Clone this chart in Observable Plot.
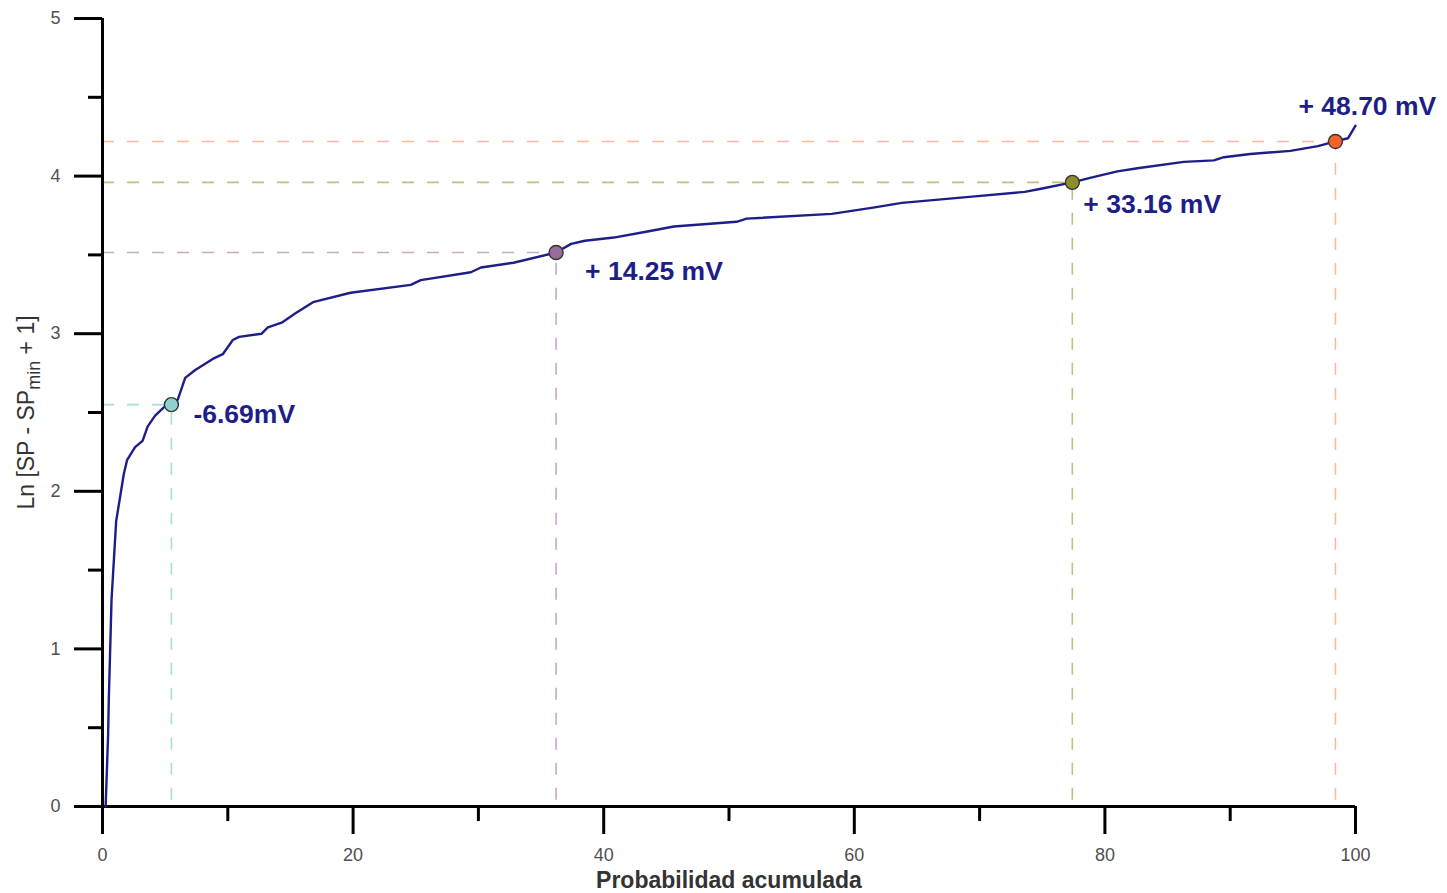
<!DOCTYPE html>
<html>
<head>
<meta charset="utf-8">
<script src="https://cdn.jsdelivr.net/npm/d3@7"></script>
<script src="https://cdn.jsdelivr.net/npm/@observablehq/plot@0.6"></script>
<style>
  html, body { margin: 0; padding: 0; background: #fff; }
  #chart svg { display: block; font-family: "Liberation Sans", Arial, sans-serif; }
</style>
</head>
<body>
<div id="chart"></div>
<script>
// Cumulative probability curve (x in %, y = Ln[SP - SPmin + 1])
const probX = [0.25, 0.45, 0.5, 0.72, 1.09, 1.7, 1.97, 2.6, 3.2, 3.6, 4.2, 5.0, 5.5, 6.0, 6.6, 7.4, 8.2, 8.8, 9.6, 10.4, 10.9, 12.7, 13.2, 14.3, 15.4, 16.8, 19.8, 24.6, 25.4, 29.4, 30.2, 32.8, 36.2, 37.4, 38.5, 40.8, 43.6, 45.6, 50.6, 51.4, 58.2, 61.5, 63.8, 69.4, 73.6, 74.9, 77.4, 78.9, 81.0, 82.6, 86.3, 88.7, 89.5, 91.6, 94.8, 97.0, 98.4, 99.4, 100];
const lnSP  = [0, 0.46, 0.67, 1.31, 1.81, 2.11, 2.20, 2.28, 2.32, 2.41, 2.48, 2.54, 2.55, 2.58, 2.72, 2.77, 2.81, 2.84, 2.87, 2.96, 2.98, 3.00, 3.04, 3.07, 3.13, 3.20, 3.26, 3.31, 3.34, 3.39, 3.42, 3.45, 3.515, 3.57, 3.59, 3.61, 3.65, 3.68, 3.71, 3.73, 3.76, 3.80, 3.83, 3.87, 3.90, 3.92, 3.96, 3.99, 4.03, 4.05, 4.09, 4.10, 4.12, 4.14, 4.16, 4.19, 4.22, 4.24, 4.32];

// Highlighted thresholds
const markerX = [5.5, 36.2, 77.4, 98.4];
const markerY = [2.55, 3.515, 3.96, 4.22];
const markerLabel = ["-6.69mV", "+ 14.25 mV", "+ 33.16 mV", "+ 48.70 mV"];

// Axis ticks
const xMajorTicks = [0, 20, 40, 60, 80, 100];
const xMinorTicks = [10, 30, 50, 70, 90];
const yMajorTicks = [0, 1, 2, 3, 4, 5];
const yMinorTicks = [0.5, 1.5, 2.5, 3.5, 4.5];
const xTitle = "Probabilidad acumulada";

// Styles (kept separate from data)
const dotFill  = ["#8fd3cf", "#9a6a9c", "#8c8d2c", "#f4622c"];
const dashCol  = ["#a9dcdb", "#c9a6cc", "#bcc27e", "#f9b99c"];
const labelOff = [[22, 10], [29, 19], [11, 22], [-37, -35]];
const navy = "#1e1e88";

const curve = probX.map((x, i) => ({x, y: lnSP[i]}));
const markers = markerX.map((x, i) => ({x, y: markerY[i], label: markerLabel[i], i}));

const marks = [
  // dashed guides
  Plot.ruleY(markers, {y: "y", x1: 0, x2: "x", stroke: d => dashCol[d.i], strokeWidth: 1.6, strokeDasharray: "12,13"}),
  Plot.ruleX(markers, {x: "x", y1: 0.04, y2: "y", stroke: d => dashCol[d.i], strokeWidth: 1.6, strokeDasharray: "12,13"}),
  // axes lines
  Plot.ruleY([0], {stroke: "#000", strokeWidth: 3}),
  Plot.ruleX([0], {y1: 0, y2: 5, stroke: "#000", strokeWidth: 3}),
  Plot.axisX({ticks: xMajorTicks, tickSize: 28, tickPadding: 14, fontSize: 18, fill: "#505050", stroke: "#000", strokeWidth: 3, label: null, tickFormat: d => String(d)}),
  Plot.axisX({ticks: xMinorTicks, tickSize: 15, stroke: "#000", strokeWidth: 3, label: null, tickFormat: () => ""}),
  Plot.axisY({ticks: yMajorTicks, tickSize: 28, tickPadding: 14, fontSize: 18, fill: "#505050", stroke: "#000", strokeWidth: 3, label: null, tickFormat: d => String(d)}),
  Plot.axisY({ticks: yMinorTicks, tickSize: 14, stroke: "#000", strokeWidth: 3, label: null, tickFormat: () => ""}),
  // curve
  Plot.line(curve, {x: "x", y: "y", stroke: navy, strokeWidth: 2.4, strokeLinejoin: "round"}),
  // dots
  Plot.dot(markers, {x: "x", y: "y", r: 7, fill: d => dotFill[d.i], stroke: "#333", strokeWidth: 1.4}),
  // x title
  Plot.text([xTitle], {frameAnchor: "bottom", lineAnchor: "middle", textAnchor: "middle", dy: 74, fontSize: 23, fontWeight: "bold", fill: "#333"}),
  // y title placeholder (rewritten with subscript below)
  Plot.text(["Ln [SP - SPmin + 1]"], {frameAnchor: "left", textAnchor: "middle", lineAnchor: "middle", dx: -76, rotate: -90, fontSize: 23, fill: "#333", className: "ylab"})
];
markers.forEach((m, i) => {
  marks.push(Plot.text([m], {x: "x", y: "y", text: "label", dx: labelOff[i][0], dy: labelOff[i][1], textAnchor: "start", lineAnchor: "middle", fontSize: 26.5, fontWeight: "bold", fill: navy}));
});

const chart = Plot.plot({
  width: 1447,
  height: 893,
  marginLeft: 102,
  marginRight: 92,
  marginTop: 18,
  marginBottom: 87,
  x: {domain: [0, 100]},
  y: {domain: [0, 5]},
  style: {fontFamily: "'Liberation Sans', Arial, sans-serif", background: "#fff"},
  marks
});

// Add subscript to y-axis title
d3.select(chart).selectAll(".ylab text").each(function() {
  const t = d3.select(this);
  t.text(null);
  t.append("tspan").text("Ln [SP - SP");
  t.append("tspan").style("font-size", "18px").attr("dy", 6).text("min");
  t.append("tspan").attr("dy", -6).text(" + 1]");
});

document.getElementById("chart").appendChild(chart);
</script>
</body>
</html>
